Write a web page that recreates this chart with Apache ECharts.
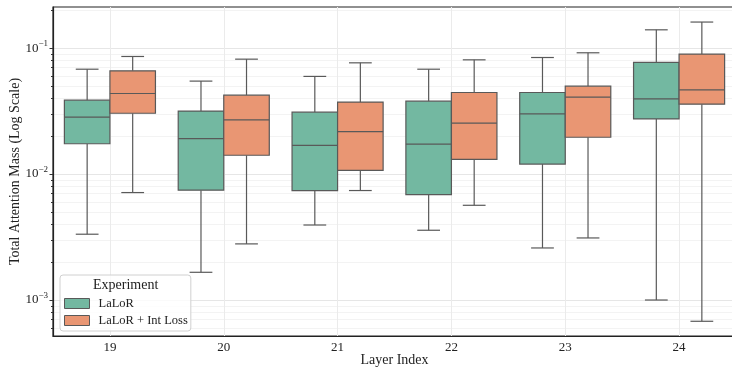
<!DOCTYPE html>
<html>
<head>
<meta charset="utf-8">
<script src="https://cdn.jsdelivr.net/npm/echarts@6/dist/echarts.min.js"></script>
<style>
html, body { margin: 0; padding: 0; background: #fff; }
#chart { width: 732px; height: 369px; }
</style>
</head>
<body>
<div id="chart"></div>
<script>
var myChart = echarts.init(document.getElementById('chart'));

var layers = ['19', '20', '21', '22', '23', '24'];
var seriesNames = ['LaLoR', 'LaLoR + Int Loss'];

// [min, Q1, median, Q3, max] for each layer
var lalorBoxes = [
    [0.00333, 0.0174, 0.0283, 0.0386, 0.068],
    [0.00166, 0.00745, 0.0191, 0.0316, 0.0547],
    [0.00394, 0.0074, 0.0169, 0.031, 0.0596],
    [0.00358, 0.00687, 0.0173, 0.0379, 0.068],
    [0.00259, 0.012, 0.0301, 0.0444, 0.0842],
    [0.001, 0.0274, 0.0395, 0.0769, 0.1397]
];
var intLossBoxes = [
    [0.00713, 0.0304, 0.0436, 0.066, 0.0858],
    [0.00279, 0.0141, 0.0269, 0.0423, 0.0817],
    [0.0074, 0.0107, 0.0217, 0.0373, 0.0764],
    [0.00565, 0.0131, 0.0254, 0.0444, 0.0807],
    [0.00311, 0.0196, 0.0408, 0.0499, 0.0918],
    [0.000678, 0.0359, 0.0466, 0.0896, 0.161]
];

var majorTicks = [0.001, 0.01, 0.1];
var minorTicks = [
    0.0006, 0.0007, 0.0008, 0.0009,
    0.002, 0.003, 0.004, 0.005, 0.006, 0.007, 0.008, 0.009,
    0.02, 0.03, 0.04, 0.05, 0.06, 0.07, 0.08, 0.09,
    0.2
];
var yMin = 0.000518;
var yMax = 0.212;

var green = '#73b8a1';
var orange = '#e99673';
var lineColor = '#595959';
var font = 'Liberation Serif';

function toRows(boxes) {
    return boxes.map(function (b, i) {
        return [i].concat(b);
    });
}

// draws one box: side -1 = left half of the band, +1 = right half
function makeRenderer(side, color) {
    return function (params, api) {
        var idx = api.value(0);
        var band = api.size([1, 0])[0];
        var w = band * 0.4;
        var x = api.coord([idx, api.value(3)])[0] + side * w / 2;
        var yLo = api.coord([idx, api.value(1)])[1];
        var yQ1 = api.coord([idx, api.value(2)])[1];
        var yMed = api.coord([idx, api.value(3)])[1];
        var yQ3 = api.coord([idx, api.value(4)])[1];
        var yHi = api.coord([idx, api.value(5)])[1];
        var ls = { stroke: lineColor, lineWidth: 1.2 };
        var cap = w / 4;
        return {
            type: 'group',
            children: [
                { type: 'line', shape: { x1: x, y1: yQ1, x2: x, y2: yLo }, style: ls },
                { type: 'line', shape: { x1: x, y1: yQ3, x2: x, y2: yHi }, style: ls },
                { type: 'line', shape: { x1: x - cap, y1: yLo, x2: x + cap, y2: yLo }, style: ls },
                { type: 'line', shape: { x1: x - cap, y1: yHi, x2: x + cap, y2: yHi }, style: ls },
                { type: 'rect', shape: { x: x - w / 2, y: yQ3, width: w, height: yQ1 - yQ3 },
                  style: { fill: color, stroke: lineColor, lineWidth: 1.2 } },
                { type: 'line', shape: { x1: x - w / 2, y1: yMed, x2: x + w / 2, y2: yMed }, style: ls }
            ]
        };
    };
}

function powLabel(v) {
    var e = Math.round(Math.log(v) / Math.LN10);
    return '{b|10}{s|' + (e < 0 ? '\u2212' : '') + Math.abs(e) + '}';
}

option = {
    animation: false,
    grid: {
        left: 53,
        top: 7,
        width: 683,
        height: 329,
        outerBoundsMode: 'none',
        containLabel: false,
        show: true,
        borderColor: '#222',
        borderWidth: 1.2
    },
    legend: {
        orient: 'vertical',
        left: 60,
        top: 275,
        padding: [22, 3, 4, 4],
        itemGap: 4,
        itemWidth: 25,
        itemHeight: 10,
        icon: 'rect',
        backgroundColor: 'rgba(255,255,255,0.8)',
        borderColor: '#d0d0d0',
        borderWidth: 1,
        borderRadius: 3,
        textStyle: { fontFamily: font, fontSize: 12.5, color: '#222', padding: [0, 0, 0, 4] },
        data: [
            { name: seriesNames[0], itemStyle: { color: green, borderColor: lineColor, borderWidth: 1 } },
            { name: seriesNames[1], itemStyle: { color: orange, borderColor: lineColor, borderWidth: 1 } }
        ]
    },
    graphic: [{
        type: 'text',
        left: 93,
        top: 278,
        z: 100,
        style: { text: 'Experiment', fontFamily: font, fontSize: 14, fill: '#222' }
    }],
    xAxis: {
        type: 'category',
        data: layers,
        boundaryGap: true,
        name: 'Layer Index',
        nameLocation: 'middle',
        nameGap: 17,
        nameMoveOverlap: false,
        nameTextStyle: { fontFamily: font, fontSize: 14, color: '#222' },
        axisLine: { lineStyle: { color: '#222', width: 1.2 } },
        axisTick: { alignWithLabel: true, length: 3.5, lineStyle: { color: '#333' } },
        axisLabel: { fontFamily: font, fontSize: 13, color: '#222', margin: 5 },
        splitLine: { show: true, alignWithLabel: true, lineStyle: { color: '#ebebeb' } }
    },
    yAxis: [{
        type: 'log',
        min: yMin,
        max: yMax,
        name: 'Total Attention Mass (Log Scale)',
        nameLocation: 'middle',
        nameGap: 31,
        nameMoveOverlap: false,
        nameTextStyle: { fontFamily: font, fontSize: 14, color: '#222' },
        axisLine: { show: true, lineStyle: { color: '#222', width: 1.2 } },
        axisTick: { show: true, length: 3.5, customValues: majorTicks, lineStyle: { color: '#333' } },
        axisLabel: {
            customValues: majorTicks,
            formatter: powLabel,
            margin: 5,
            rich: {
                b: { fontFamily: font, fontSize: 13, color: '#222' },
                s: { fontFamily: font, fontSize: 9, color: '#222', verticalAlign: 'bottom', padding: [0, 0, 8, 0] }
            }
        },
        splitLine: { show: true, lineStyle: { color: '#e6e6e6' } }
    }, {
        type: 'log',
        position: 'left',
        min: yMin,
        max: yMax,
        axisLine: { show: false },
        axisTick: { show: true, length: 2, customValues: minorTicks, lineStyle: { color: '#333' } },
        axisLabel: { show: false },
        splitLine: { show: true, lineStyle: { color: '#f3f3f3' } }
    }],
    series: [{
        name: seriesNames[0],
        type: 'custom',
        renderItem: makeRenderer(-1, green),
        itemStyle: { color: green },
        encode: { x: 0, y: [1, 2, 3, 4, 5] },
        data: toRows(lalorBoxes)
    }, {
        name: seriesNames[1],
        type: 'custom',
        renderItem: makeRenderer(1, orange),
        itemStyle: { color: orange },
        encode: { x: 0, y: [1, 2, 3, 4, 5] },
        data: toRows(intLossBoxes)
    }]
};

myChart.setOption(option);
</script>
</body>
</html>
